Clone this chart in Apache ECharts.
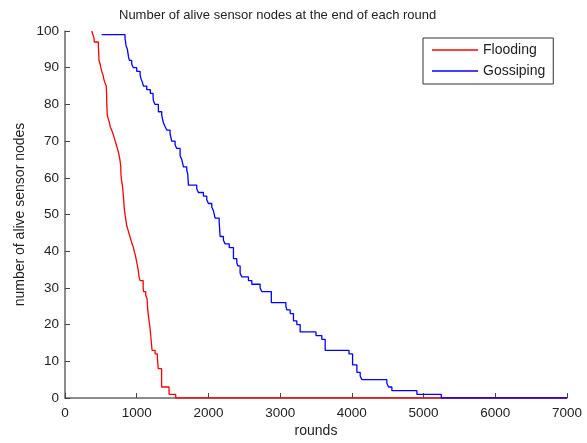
<!DOCTYPE html>
<html>
<head>
<meta charset="utf-8">
<script src="https://cdn.jsdelivr.net/npm/echarts@6/dist/echarts.min.js"></script>
<style>html,body{margin:0;padding:0;background:#fff}#c{width:587px;height:443px}</style>
</head>
<body>
<div id="c"></div>
<script>
// Data (round at which the alive count changes, new count)
const floodRounds = [372,390,405,409,465,470,474,490,500,512,530,540,555,575,580,583,590,605,620,630,650,670,685,700,715,730,745,755,765,778,780,790,800,810,818,825,837,845,860,875,890,905,920,935,955,965,980,1000,1010,1020,1033,1047,1090,1095,1126,1145,1150,1160,1172,1186,1200,1214,1256,1288,1300,1347,1451,1544,7000];
const floodAlive  = [100,99,98,97,96,94,92,91,90,89,88,87,86,85,83,80,77,76,75,74,73,72,71,70,69,68,67,66,65,63,61,59,58,56,54,52,50,49,47,46,45,44,43,42,41,40,39,37,36,35,33,32,30,29,28,27,25,23,21,19,16,13,12,11,8,3,1,0,0];

const gossipRounds = [512,837,845,851,870,885,898,930,953,1000,1047,1060,1080,1093,1140,1190,1228,1233,1256,1302,1349,1372,1395,1419,1465,1488,1535,1558,1605,1628,1651,1698,1712,1721,1837,1860,1930,1977,2000,2047,2070,2093,2150,2163,2209,2233,2290,2349,2395,2409,2442,2465,2558,2605,2721,2744,2877,3080,3093,3140,3186,3233,3279,3500,3581,3628,3960,4010,4070,4116,4140,4488,4512,4558,4907,5247,7000];
const gossipAlive  = [99,98,97,96,95,93,92,91,90,89,88,87,86,85,84,83,82,81,80,78,77,75,74,73,72,70,69,68,66,65,63,62,61,58,57,56,55,54,53,52,51,49,48,44,43,42,41,38,37,36,34,33,32,31,30,29,26,25,24,23,21,20,18,17,16,13,12,9,7,6,5,4,3,2,1,0,0];

const xTicks = [0,1000,2000,3000,4000,5000,6000,7000];
const yTicks = [0,10,20,30,40,50,60,70,80,90,100];

const FONT = '"Liberation Sans", Arial, sans-serif';
const chart = echarts.init(document.getElementById('c'), null, {renderer: 'canvas'});
const zip = (a, b) => a.map((v, i) => [v, b[i]]);

chart.setOption({
  animation: false,
  backgroundColor: '#fff',
  title: {
    text: 'Number of alive sensor nodes at the end of each round',
    left: 119, top: 9, padding: 0,
    textStyle: {fontFamily: FONT, fontSize: 13, fontWeight: 'normal', color: '#222'}
  },
  legend: {
    orient: 'vertical',
    left: 423, top: 38,
    padding: [5, 8, 6, 9],
    itemGap: 7,
    itemWidth: 46, itemHeight: 1.5,
    icon: 'rect',
    borderColor: '#333', borderWidth: 1,
    backgroundColor: '#fff',
    textStyle: {fontFamily: FONT, fontSize: 14, color: '#222'},
    data: ['Flooding', 'Gossiping']
  },
  grid: {left: 65, right: 20, top: 31, bottom: 40, containLabel: false},
  xAxis: {
    type: 'value', min: xTicks[0], max: xTicks[xTicks.length - 1], interval: 1000,
    name: 'rounds', nameLocation: 'middle', nameGap: 26, nameMoveOverlap: false,
    nameTextStyle: {fontFamily: FONT, fontSize: 14, color: '#222'},
    axisLine: {show: true, lineStyle: {color: '#666', width: 1.5}},
    axisTick: {show: true, inside: true, length: 5, lineStyle: {color: '#444'}},
    axisLabel: {fontFamily: FONT, fontSize: 13.5, color: '#222', margin: 8, formatter: v => String(v)},
    splitLine: {show: false}
  },
  yAxis: {
    type: 'value', min: yTicks[0], max: yTicks[yTicks.length - 1], interval: 10,
    name: 'number of alive sensor nodes', nameLocation: 'middle', nameGap: 38, nameMoveOverlap: false,
    nameTextStyle: {fontFamily: FONT, fontSize: 14, color: '#222'},
    axisLine: {show: true, lineStyle: {color: '#666', width: 1.5}},
    axisTick: {show: true, inside: true, length: 5, lineStyle: {color: '#444'}},
    axisLabel: {fontFamily: FONT, fontSize: 13.5, color: '#222', margin: 6, formatter: v => String(v)},
    splitLine: {show: false}
  },
  series: [
    {
      name: 'Flooding', type: 'line', step: 'end', symbol: 'none',
      data: zip(floodRounds, floodAlive),
      lineStyle: {color: '#ff0000', width: 1.3}, itemStyle: {color: '#ff0000'}
    },
    {
      name: 'Gossiping', type: 'line', step: 'end', symbol: 'none',
      data: zip(gossipRounds, gossipAlive),
      lineStyle: {color: '#0000ff', width: 1.3}, itemStyle: {color: '#0000ff'}
    }
  ]
});
</script>
</body>
</html>
